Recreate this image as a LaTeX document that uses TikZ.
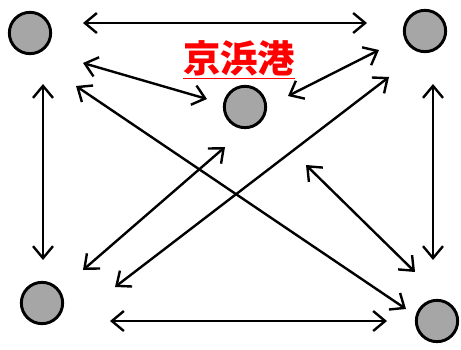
\documentclass[tikz,border=0pt]{standalone}
\usepackage{fontspec}
\usepackage{tikz}
\usetikzlibrary{arrows.meta, positioning, calc}
\newfontfamily\jpfont{Noto Sans CJK JP}
\definecolor{PortGray}{RGB}{166, 166, 166}
\definecolor{PortRed}{RGB}{255, 0, 0}

\begin{document}
\begin{tikzpicture}[
    x=0.75pt, y=-0.75pt,
    port/.style={
      circle,
      draw=black,
      fill=PortGray,
      line width=2.2pt,
      minimum size=31pt,
      inner sep=0pt
    },
    link/.style={
      line width=1.8pt,
      {Straight Barb[length=9pt, width=15pt, line width=1.8pt]}-{Straight Barb[length=9pt, width=15pt, line width=1.8pt]}
    }
  ]
  \useasboundingbox (0,0) rectangle (461,350);

  % ports
  \node[port] (tl) at (30,33) {};
  \node[port] (tr) at (425,31) {};
  \node[port] (ctr) at (245,107) {};
  \node[port] (bl) at (42,303) {};
  \node[port] (br) at (437,321) {};

  \node[
    text=PortRed,
    font=\jpfont\bfseries\fontsize{28pt}{30pt}\selectfont,
    inner sep=0pt
  ] (name) at (239,60) {\underline{京浜港}};

  % links
  \draw[link] ([shift={(53,-10)}]tl.center) -- ([shift={(-58,-8)}]tr.center);
  \draw[link] ([shift={(53,30)}]tl.center) -- ([shift={(-38,-8)}]ctr.center);
  \draw[link] ([shift={(13,51)}]tl.center) -- ([shift={(1,-43)}]bl.center);
  \draw[link] ([shift={(46,53)}]tl.center) -- ([shift={(-31,-12)}]br.center);
  \draw[link] ([shift={(43,-11)}]ctr.center) -- ([shift={(-46,19)}]tr.center);
  \draw[link] ([shift={(73,-16)}]bl.center) -- ([shift={(-36,46)}]tr.center);
  \draw[link] ([shift={(8,53)}]tr.center) -- ([shift={(-4,-61)}]br.center);
  \draw[link] ([shift={(41,-33)}]bl.center) -- ([shift={(-20,40)}]ctr.center);
  \draw[link] ([shift={(61,58)}]ctr.center) -- ([shift={(-22,-49)}]br.center);
  \draw[link] ([shift={(68,18)}]bl.center) -- ([shift={(-50,0)}]br.center);
\end{tikzpicture}
\end{document}
